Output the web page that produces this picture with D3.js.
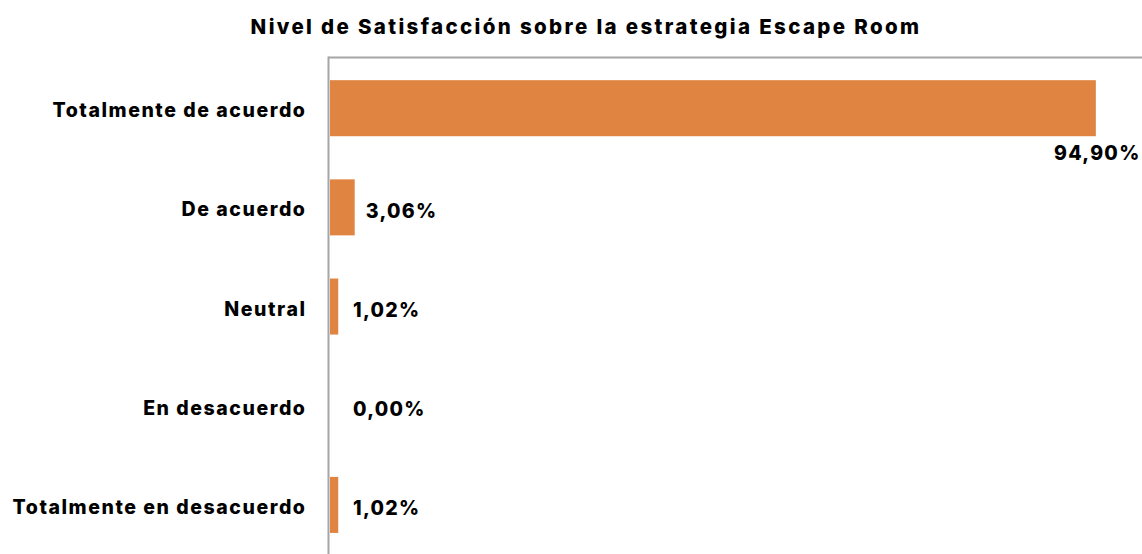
<!DOCTYPE html>
<html>
<head>
<meta charset="utf-8">
<script src="https://cdn.jsdelivr.net/npm/d3@7"></script>
<style>
  html, body { margin: 0; padding: 0; background: #ffffff; }
  svg { display: block; }
  text { font-family: Inter, "Noto Sans", sans-serif; font-weight: 800; fill: #000; }
</style>
</head>
<body>
<svg id="chart" width="1142" height="554"></svg>
<script>
const title = "Nivel de Satisfacción sobre la estrategia Escape Room";
const categories = ["Totalmente de acuerdo", "De acuerdo", "Neutral", "En desacuerdo", "Totalmente en desacuerdo"];
const values = [94.90, 3.06, 1.02, 0.00, 1.02];
const valueLabels = ["94,90%", "3,06%", "1,02%", "0,00%", "1,02%"];

const W = 1142, H = 554;
const svg = d3.select("#chart");

const x = d3.scaleLinear().domain([0, 100]).range([330, 1137]);
const y = d3.scaleBand().domain(categories).range([58.6, 554.5])
  .paddingInner(0.435).paddingOuter(0.2175);

// title
svg.append("text")
  .attr("x", 586).attr("y", 34)
  .attr("text-anchor", "middle")
  .style("font-size", "20.5px")
  .style("letter-spacing", "2.35px")
  .text(title);

// frame lines (top and left)
svg.append("line")
  .attr("x1", 328.5).attr("x2", W).attr("y1", 57.5).attr("y2", 57.5)
  .attr("stroke", "#a6a6a6").attr("stroke-width", 2);
svg.append("line")
  .attr("x1", 328.5).attr("x2", 328.5).attr("y1", 56.5).attr("y2", H)
  .attr("stroke", "#a6a6a6").attr("stroke-width", 2);

const data = categories.map((c, i) => ({ c, v: values[i], l: valueLabels[i] }));

// bars
svg.selectAll("rect.bar").data(data).enter().append("rect")
  .attr("class", "bar")
  .attr("x", x(0))
  .attr("y", d => y(d.c))
  .attr("width", d => x(d.v) - x(0))
  .attr("height", y.bandwidth())
  .attr("fill", "#e08441");

// category labels
svg.selectAll("text.cat").data(data).enter().append("text")
  .attr("class", "cat")
  .attr("x", 306.5)
  .attr("y", d => y(d.c) + y.bandwidth() / 2 + 9)
  .attr("text-anchor", "end")
  .style("font-size", "19.5px")
  .style("letter-spacing", "1.55px")
  .text(d => d.c);

// value labels
const maxV = d3.max(values);
svg.selectAll("text.val").data(data).enter().append("text")
  .attr("class", "val")
  .style("font-size", "19.5px")
  .style("letter-spacing", "1.3px")
  .attr("text-anchor", d => d.v === maxV ? "end" : "start")
  .attr("x", d => d.v === maxV ? 1140.5 : Math.max(x(d.v) + 11, x(0) + 23))
  .attr("y", d => d.v === maxV ? y(d.c) + y.bandwidth() + 24 : y(d.c) + y.bandwidth() / 2 + 10.5)
  .text(d => d.l);
</script>
</body>
</html>
